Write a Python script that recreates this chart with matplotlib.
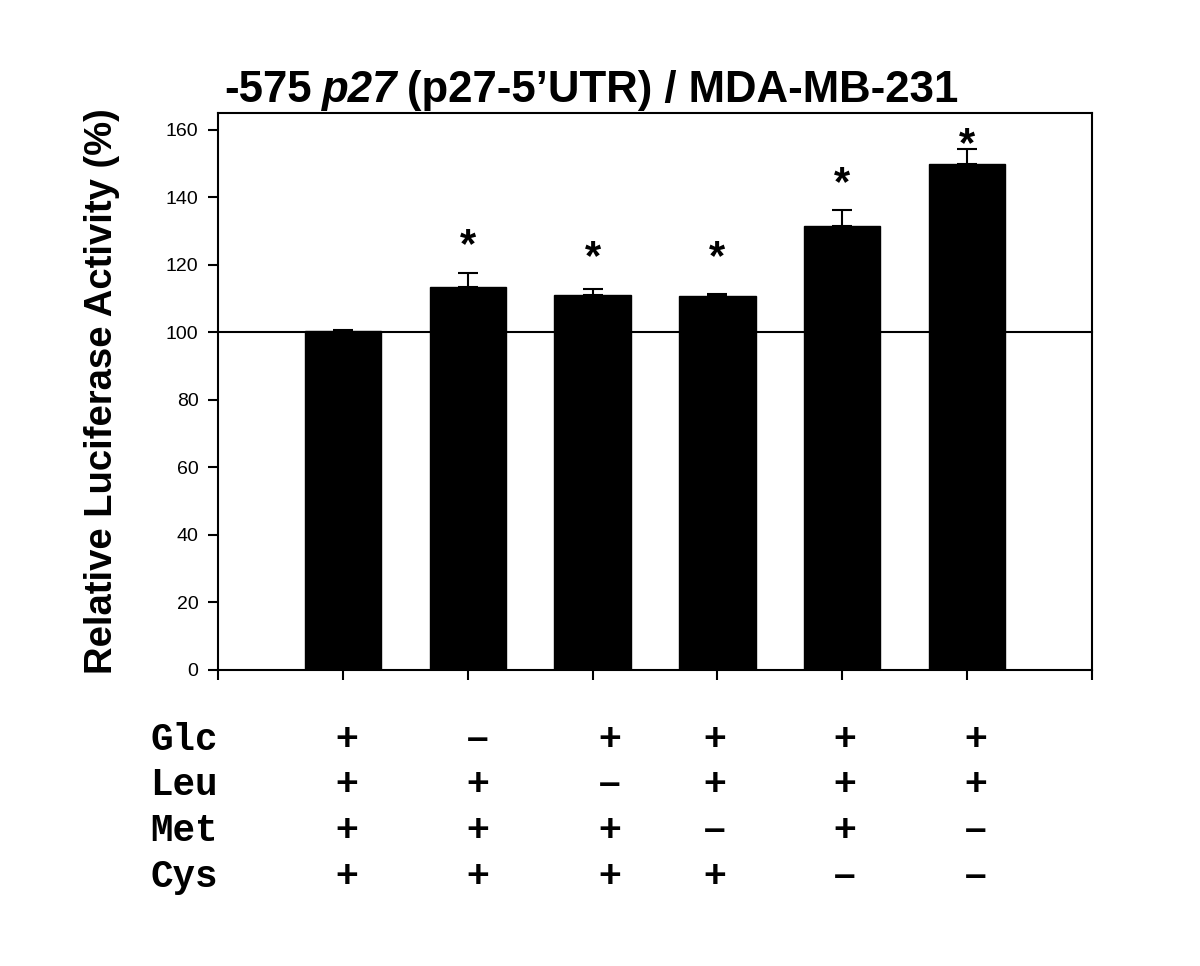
import numpy as np
import matplotlib
matplotlib.use('Agg')
import matplotlib.pyplot as plt
from matplotlib import transforms

# data
conditions = ['1', '2', '3', '4', '5', '6']
activity = [100.3, 113.6, 111.0, 110.8, 131.5, 149.9]
err_up = [0.4, 3.9, 1.8, 0.5, 4.8, 4.3]
star_y = [None, 125.5, 122.0, 122.0, 144.0, 155.5]
row_names = ['Glc', 'Leu', 'Met', 'Cys']
signs = [
    ['+', '-', '+', '+', '+', '+'],
    ['+', '+', '-', '+', '+', '+'],
    ['+', '+', '+', '-', '+', '-'],
    ['+', '+', '+', '+', '-', '-'],
]

plt.rcParams['font.family'] = ['Liberation Sans', 'DejaVu Sans']

fig = plt.figure(figsize=(12, 9.66), dpi=100)
ax = fig.add_axes([218 / 1200, 1 - 670 / 966, (1092 - 218) / 1200, (670 - 113) / 966])

x = np.arange(1, len(activity) + 1)
ax.bar(x, activity, width=0.61, color='black', edgecolor='black', zorder=2)
ax.errorbar(x, activity, yerr=[np.zeros(len(err_up)), err_up], fmt='none',
            ecolor='black', elinewidth=1.5, capsize=7, capthick=1.5, zorder=3)
ax.axhline(100, color='black', lw=1.5, zorder=1, clip_on=False)

for xi, sy in zip(x, star_y):
    if sy is not None:
        ax.text(xi, sy, '*', ha='center', va='center', fontsize=30, fontweight='bold')

ax.set_xlim(0, 7)
ax.set_ylim(0, 165)
ax.set_xticks(np.arange(0, 8))
ax.set_xticklabels([])
ax.set_yticks(np.arange(0, 161, 20))
ax.tick_params(axis='y', direction='out', length=7, width=1.5, labelsize=14, pad=7)
ax.tick_params(axis='x', direction='out', length=7, width=1.5)
for sp in ax.spines.values():
    sp.set_linewidth(1.5)

ax.set_ylabel('Relative Luciferase Activity (%)', fontsize=27.5, fontweight='bold', labelpad=33)

# title built from pieces so p27 can be italic
ty = 1 - 102 / 966
t1 = fig.text(224 / 1200, ty, '-575', fontsize=31.5, fontweight='bold')
t2 = fig.text(0, 0, 'p27', fontsize=31.5, fontweight='bold', style='italic')
t3 = fig.text(0, 0, '(p27-5\u2019UTR) / MDA-MB-231', fontsize=31.5, fontweight='bold')
fig.canvas.draw()
r = fig.canvas.get_renderer()
inv = fig.transFigure.inverted()
gap = 10 / 1200
b1 = inv.transform(t1.get_window_extent(r))
t2.set_position((b1[1, 0] + gap, ty))
fig.canvas.draw()
b2 = inv.transform(t2.get_window_extent(r))
t3.set_position((b2[1, 0] + gap, ty))

# condition table under the axis
col_x = [1.03, 2.08, 3.14, 3.98, 5.02, 6.07]
row_y = [740, 785, 831, 877]
trans = transforms.blended_transform_factory(ax.transData, fig.transFigure)
for name, ry, row in zip(row_names, row_y, signs):
    fy = 1 - ry / 966
    fig.text(150 / 1200, fy, name, fontsize=27, fontweight='bold',
             family='Liberation Mono', va='center', ha='left')
    for cx, s in zip(col_x, row):
        ch = '+' if s == '+' else '\u2013'
        ax.text(cx, fy, ch, transform=trans, fontsize=28, fontweight='bold',
                ha='center', va='center', clip_on=False)

fig.savefig('out.png', dpi=100)
